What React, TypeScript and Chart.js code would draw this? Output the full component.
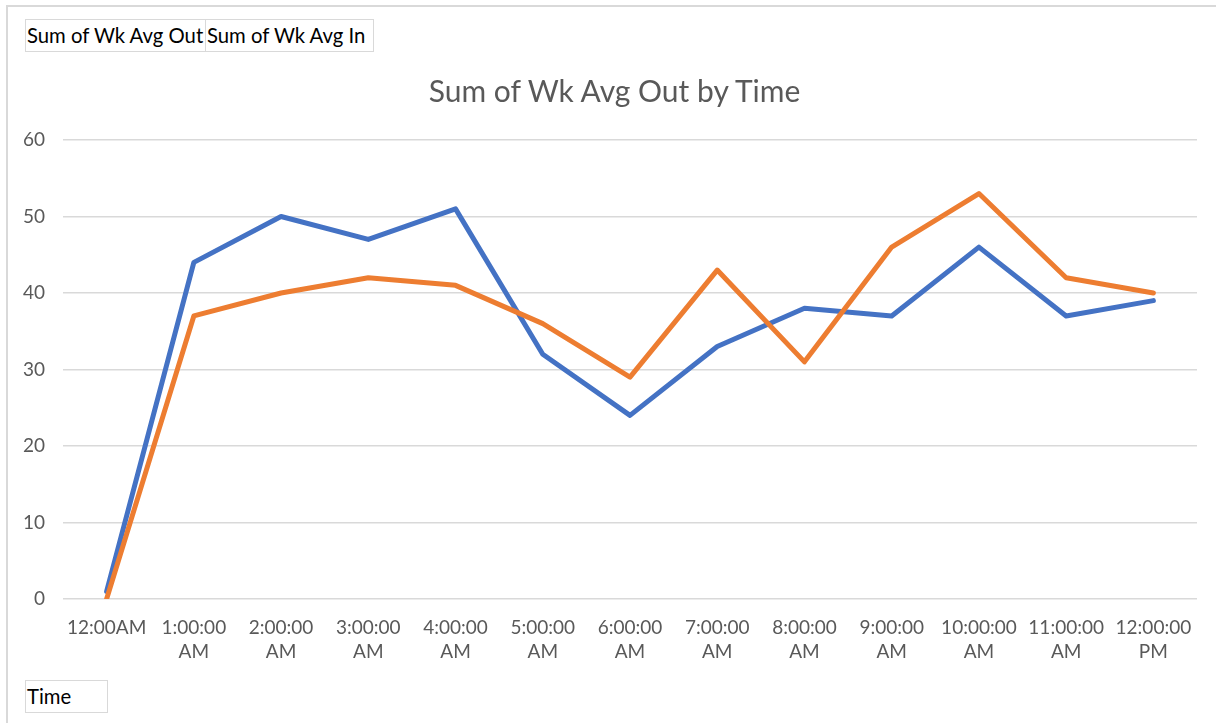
import React, { useEffect, useRef } from "react";
import { Chart, registerables } from "chart.js";

Chart.register(...registerables);

const categories: (string | string[])[] = [
  "12:00AM",
  ["1:00:00", "AM"],
  ["2:00:00", "AM"],
  ["3:00:00", "AM"],
  ["4:00:00", "AM"],
  ["5:00:00", "AM"],
  ["6:00:00", "AM"],
  ["7:00:00", "AM"],
  ["8:00:00", "AM"],
  ["9:00:00", "AM"],
  ["10:00:00", "AM"],
  ["11:00:00", "AM"],
  ["12:00:00", "PM"],
];

const wkAvgOut = [1, 44, 50, 47, 51, 32, 24, 33, 38, 37, 46, 37, 39];
const wkAvgIn = [0, 37, 40, 42, 41, 36, 29, 43, 31, 46, 53, 42, 40];

const titleText = "Sum of Wk Avg Out by Time";
const fieldButtons = ["Sum of Wk Avg Out", "Sum of Wk Avg In"];
const axisButton = "Time";

const FONT = "Lato, 'Open Sans', sans-serif";

export default function App() {
  const canvasRef = useRef<HTMLCanvasElement | null>(null);

  useEffect(() => {
    const canvas = canvasRef.current;
    if (!canvas) return;
    const chart = new Chart(canvas, {
      type: "line",
      data: {
        labels: categories,
        datasets: [
          {
            label: "Sum of Wk Avg Out",
            data: wkAvgOut,
            borderColor: "#4472C4",
            backgroundColor: "#4472C4",
            borderWidth: 5,
            pointRadius: 0,
            tension: 0,
            borderJoinStyle: "round",
            borderCapStyle: "round",
            order: 1,
          },
          {
            label: "Sum of Wk Avg In",
            data: wkAvgIn,
            borderColor: "#ED7D31",
            backgroundColor: "#ED7D31",
            borderWidth: 5,
            pointRadius: 0,
            tension: 0,
            borderJoinStyle: "round",
            borderCapStyle: "round",
            order: 0,
          },
        ],
      },
      options: {
        animation: false,
        responsive: false,
        maintainAspectRatio: false,
        layout: { padding: { top: 140, left: 0, right: 19, bottom: 0 } },
        plugins: {
          legend: { display: false },
          tooltip: { enabled: false },
          title: { display: false },
        },
        scales: {
          x: {
            offset: true,
            grid: { display: false, drawTicks: false },
            border: { display: false },
            ticks: {
              color: "#595959",
              font: { family: FONT, size: 19, lineHeight: 1.25 },
              padding: 17,
              maxRotation: 0,
              autoSkip: false,
            },
            afterFit: (scale: any) => {
              scale.height = 124;
            },
          },
          y: {
            min: 0,
            max: 60,
            ticks: {
              stepSize: 10,
              color: "#595959",
              font: { family: FONT, size: 19 },
              padding: 18,
            },
            grid: { color: "#d9d9d9", lineWidth: 1.5, drawTicks: false },
            border: { display: false },
            afterFit: (scale: any) => {
              scale.width = 63;
            },
          },
        },
      },
    });
    return () => chart.destroy();
  }, []);

  const boxStyle: React.CSSProperties = {
    position: "absolute",
    boxSizing: "border-box",
    border: "1px solid #d9d9d9",
    height: 33,
    fontFamily: FONT,
    fontSize: 20.3,
    color: "#000",
    lineHeight: "31px",
    paddingLeft: 1,
    whiteSpace: "nowrap",
    overflow: "hidden",
    background: "#fff",
  };

  return (
    <div
      style={{
        position: "fixed",
        left: 0,
        top: 0,
        width: 1216,
        height: 723,
        background: "#fff",
        overflow: "hidden",
      }}
    >
      <div
        style={{
          position: "absolute",
          left: 6,
          top: 5,
          width: 1240,
          height: 740,
          borderLeft: "2px solid #d9d9d9",
          borderTop: "2px solid #d9d9d9",
          boxSizing: "border-box",
        }}
      />
      <canvas
        ref={canvasRef}
        width={1216}
        height={723}
        style={{ position: "absolute", left: 0, top: 0, width: 1216, height: 723 }}
      />
      <div
        style={{
          position: "absolute",
          left: 0,
          top: 72,
          width: 1229,
          textAlign: "center",
          fontFamily: FONT,
          fontSize: 30,
          lineHeight: "36px",
          color: "#595959",
          whiteSpace: "nowrap",
        }}
      >
        {titleText}
      </div>
      <div style={{ ...boxStyle, left: 25, top: 19, width: 181 }}>{fieldButtons[0]}</div>
      <div style={{ ...boxStyle, left: 205, top: 19, width: 169 }}>{fieldButtons[1]}</div>
      <div style={{ ...boxStyle, left: 25, top: 680, width: 83 }}>{axisButton}</div>
    </div>
  );
}
